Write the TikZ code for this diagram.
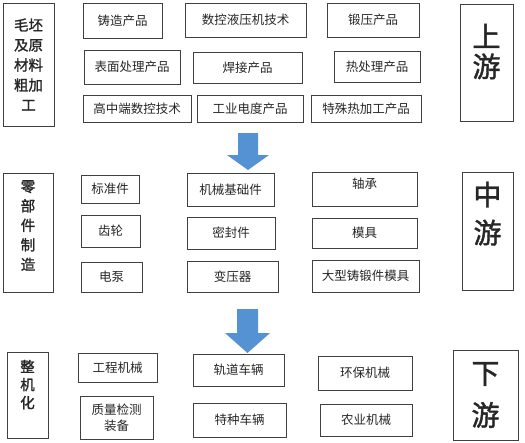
\documentclass[tikz,border=0pt]{standalone}
\usepackage{fontspec}
\newfontfamily\cjk{Noto Sans CJK SC}
\newfontfamily\cjkbold[FakeBold=1.5]{Noto Sans CJK SC}
\definecolor{arrowblue}{RGB}{84,146,212}

\begin{document}
\begin{tikzpicture}[x=1pt, y=-1pt,
        box/.style={draw=black!75, line width=0.9pt, inner sep=0pt, text=black!85,
            font=\cjk\fontsize{12.5}{16.5}\selectfont, align=center},
        side/.style={box, font=\cjkbold\fontsize{14.5}{20}\selectfont},
        big/.style={box, font=\cjkbold\fontsize{28}{30}\selectfont}]
    \useasboundingbox (0,0) rectangle (525,442);

    % Upstream
    \node[side, minimum width=51, minimum height=123] (maopi) at (28.5,64.5)
        {毛坯\\及原\\材料\\粗加\\工};
    \node[box, minimum width=79, minimum height=35] (zhuzao) at (122.5,20.5) {铸造产品};
    \node[box, minimum width=121, minimum height=34] (yeya) at (245.5,20) {数控液压机技术};
    \node[box, minimum width=92, minimum height=34] (duanya) at (373,20) {锻压产品};
    \node[box, minimum width=96, minimum height=34] (biaomian) at (132,67) {表面处理产品};
    \node[box, minimum width=109, minimum height=31] (hanjie) at (247.5,67.5) {焊接产品};
    \node[box, minimum width=86, minimum height=31] (rechuli) at (377,66.5) {热处理产品};
    \node[box, minimum width=108, minimum height=27] (gaozhong) at (137,108.5) {高中端数控技术};
    \node[box, minimum width=106, minimum height=27] (diandu) at (250,108.5) {工业电度产品};
    \node[box, minimum width=110, minimum height=27] (teshu) at (366,108.5) {特殊热加工产品};
    \node[big, minimum width=53, minimum height=117, text depth=24pt] (shangyou) at (486.5,62.5)
        {上\\游};

    \fill[arrowblue] (238,133) -- (258,133) -- (258,155) -- (269,155)
        -- (248,170) -- (227,155) -- (238,155) -- cycle; % Arrow down

    % Midstream
    \node[side, minimum width=50, minimum height=119, text depth=15pt,
        font=\cjkbold\fontsize{14.5}{19.5}\selectfont] (lingbu) at (28,232.5)
        {零\\部\\件\\制\\造};
    \node[box, minimum width=58, minimum height=28] (biaozhun) at (110,189) {标准件};
    \node[box, minimum width=59, minimum height=32] (chilun) at (110.5,231) {齿轮};
    \node[box, minimum width=61, minimum height=30] (dianbeng) at (111.5,277) {电泵};
    \node[box, minimum width=87, minimum height=33] (jichu) at (230.5,189.5) {机械基础件};
    \node[box, minimum width=88, minimum height=32] (mifeng) at (231,233) {密封件};
    \node[box, minimum width=91, minimum height=31] (bianya) at (232.5,276.5) {变压器};
    \node[box, minimum width=105, minimum height=34, text depth=12pt] (zhoucheng) at (364.5,189) {轴承};
    \node[box, minimum width=105, minimum height=30] (muju) at (364.5,233) {模具};
    \node[box, minimum width=107, minimum height=32] (daxing) at (365.5,276) {大型铸锻件模具};
    \node[big, minimum width=51, minimum height=118, text depth=37pt,
        font=\cjkbold\fontsize{28}{38}\selectfont] (zhongyou) at (487.5,231)
        {中\\游};

    \fill[arrowblue] (237,309) -- (258,309) -- (258,333) -- (270,333)
        -- (247.5,353) -- (225,333) -- (237,333) -- cycle; % Arrow down

    % Downstream
    \node[side, minimum width=41, minimum height=86, text depth=22pt,
        font=\cjkbold\fontsize{14.5}{18}\selectfont] (zhengji) at (27.5,395)
        {整\\机\\化};
    \node[box, minimum width=79, minimum height=29] (gongcheng) at (117.5,367.5) {工程机械};
    \node[box, minimum width=73, minimum height=43] (zhiliang) at (116.5,417.5) {质量检测\\装备};
    \node[box, minimum width=91, minimum height=32] (guidao) at (238.5,370) {轨道车辆};
    \node[box, minimum width=93, minimum height=34] (tezhong) at (239.5,420) {特种车辆};
    \node[box, minimum width=94, minimum height=34] (huanbao) at (365,373) {环保机械};
    \node[box, minimum width=92, minimum height=32] (nongye) at (366,420) {农业机械};
    \node[big, minimum width=65, minimum height=90,
        font=\cjkbold\fontsize{28}{42}\selectfont] (xiayou) at (485.5,395)
        {下\\游};
\end{tikzpicture}
\end{document}
